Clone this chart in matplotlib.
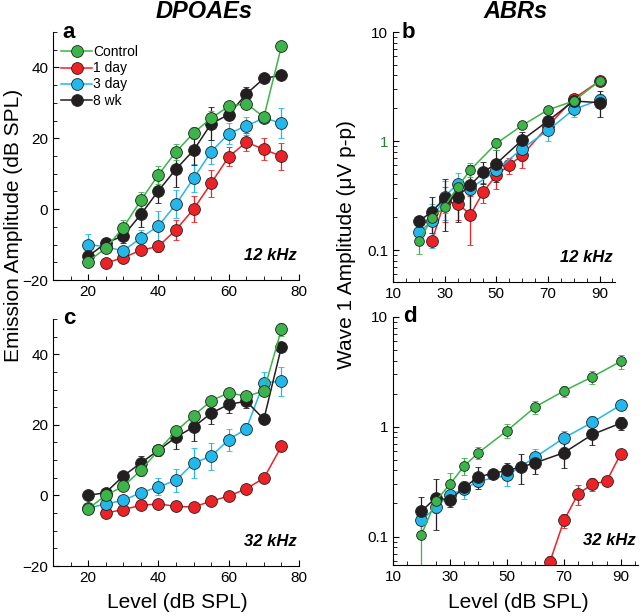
import numpy as np
import matplotlib
matplotlib.use("Agg")
import matplotlib.pyplot as plt
from matplotlib.lines import Line2D
from matplotlib.ticker import FixedLocator, MultipleLocator, NullFormatter

plt.rcParams['font.family'] = ['Liberation Sans', 'DejaVu Sans']

groups = ["Control", "1 day", "3 day", "8 wk"]
draw_order = ["1 day", "3 day", "8 wk", "Control"]
colors = {"Control": "#3cb44a", "1 day": "#ec2227", "3 day": "#22b8ec", "8 wk": "#231f20"}

# ---- panel a: DPOAE 12 kHz ----
a_lvl = {
    "Control": [20, 25, 30, 35, 40, 45, 50, 55, 60, 65, 70, 75],
    "1 day":   [25, 30, 35, 40, 45, 50, 55, 60, 65, 70, 75],
    "3 day":   [20, 25, 30, 35, 40, 45, 50, 55, 60, 65, 70, 75],
    "8 wk":    [20, 25, 30, 35, 40, 45, 50, 55, 60, 65, 70, 75],
}
a_amp = {
    "Control": [-14.8, -11.0, -5.2, 2.5, 9.7, 16.2, 21.5, 25.7, 29.0, 29.8, 26.0, 46.0],
    "1 day":   [-15.2, -13.7, -11.6, -10.5, -5.8, 0.0, 7.3, 14.8, 18.9, 16.9, 14.9],
    "3 day":   [-10.0, -10.6, -11.8, -8.1, -4.7, 1.4, 8.7, 16.2, 21.3, 23.5, 25.7, 24.3],
    "8 wk":    [-13.3, -9.6, -7.5, -1.5, 5.2, 11.3, 16.6, 24.1, 26.7, 32.5, 36.9, 37.8],
}
a_err = {
    "Control": [0.5, 1.5, 2.0, 2.3, 2.5, 2.2, 1.8, 2.0, 1.0, 1.0, 1.0, 0.5],
    "1 day":   [0.5, 0.8, 1.0, 1.5, 2.8, 3.7, 3.8, 2.7, 2.5, 3.1, 3.9],
    "3 day":   [3.1, 1.0, 1.0, 2.2, 4.2, 4.0, 4.0, 3.4, 3.0, 2.5, 1.5, 4.2],
    "8 wk":    [1.0, 1.0, 2.0, 3.4, 3.5, 5.1, 4.0, 4.6, 1.4, 2.0, 0.5, 0.5],
}

# ---- panel c: DPOAE 32 kHz ----
c_lvl = a_lvl
c_amp = {
    "Control": [-3.8, 0.0, 2.6, 7.1, 12.8, 18.2, 22.6, 26.8, 29.1, 28.1, 29.6, 47.1],
    "1 day":   [-5.0, -4.0, -2.8, -2.4, -3.1, -3.3, -1.6, -0.2, 1.9, 4.9, 13.9],
    "3 day":   [-3.6, -2.4, -1.4, 0.8, 2.4, 4.3, 9.2, 11.1, 15.8, 18.9, 32.0, 32.3],
    "8 wk":    [0.0, 0.8, 5.5, 9.2, 12.8, 16.5, 19.4, 23.3, 25.8, 26.7, 21.6, 42.1],
}
c_err = {
    "Control": [0.5, 0.8, 1.0, 1.5, 1.5, 1.5, 1.0, 1.0, 1.0, 1.0, 1.0, 1.9],
    "1 day":   [0.5, 0.5, 0.5, 0.5, 0.5, 0.5, 0.5, 1.0, 1.0, 1.2, 1.3],
    "3 day":   [0.5, 1.0, 1.0, 1.0, 2.4, 3.3, 4.3, 3.8, 3.1, 1.5, 3.0, 4.0],
    "8 wk":    [0.5, 1.0, 1.0, 2.0, 1.5, 3.3, 4.0, 3.0, 2.5, 2.0, 0.5, 0.5],
}

# ---- panel b: ABR wave 1, 12 kHz ----
b_lvl = {
    "Control": [20, 25, 30, 35, 40, 50, 60, 70, 80, 90],
    "1 day":   [25, 30, 35, 40, 45, 50, 55, 60, 70, 80, 90],
    "3 day":   [20, 25, 30, 35, 40, 50, 60, 70, 80, 90],
    "8 wk":    [20, 25, 30, 35, 40, 45, 50, 60, 70, 80, 90],
}
b_amp = {
    "Control": [0.12, 0.195, 0.25, 0.378, 0.545, 0.95, 1.39, 1.93, 2.33, 3.55],
    "1 day":   [0.12, 0.28, 0.267, 0.212, 0.342, 0.487, 0.60, 0.74, 1.37, 2.45, 3.55],
    "3 day":   [0.146, 0.184, 0.31, 0.405, 0.367, 0.54, 0.85, 1.25, 1.95, 2.38],
    "8 wk":    [0.184, 0.224, 0.30, 0.31, 0.397, 0.52, 0.62, 1.02, 1.53, 2.33, 2.25],
}
b_err = {
    "Control": [0.028, 0.02, 0.03, 0.04, 0.08, 0.12, 0.08, 0.1, 0.15, 0.2],
    "1 day":   [0.01, 0.1, 0.08, 0.1, 0.07, 0.12, 0.1, 0.17, 0.15, 0.2, 0.2],
    "3 day":   [0.02, 0.08, 0.12, 0.1, 0.05, 0.08, 0.2, 0.25, 0.3, 0.3],
    "8 wk":    [0.02, 0.08, 0.15, 0.13, 0.2, 0.12, 0.2, 0.2, 0.15, 0.2, 0.6],
}

# ---- panel d: ABR wave 1, 32 kHz ----
d_lvl = {
    "Control": [20, 25, 30, 35, 40, 50, 60, 70, 80, 90],
    "1 day":   [65, 70, 75, 80, 85, 90],
    "3 day":   [20, 25, 30, 35, 40, 50, 60, 70, 80, 90],
    "8 wk":    [20, 25, 30, 35, 40, 45, 50, 55, 60, 70, 80, 90],
}
d_amp = {
    "Control": [0.104, 0.21, 0.30, 0.44, 0.58, 0.92, 1.52, 2.12, 2.85, 3.95],
    "1 day":   [0.058, 0.14, 0.245, 0.30, 0.32, 0.57],
    "3 day":   [0.14, 0.185, 0.24, 0.27, 0.32, 0.36, 0.53, 0.79, 1.1, 1.58],
    "8 wk":    [0.17, 0.225, 0.215, 0.28, 0.35, 0.375, 0.40, 0.43, 0.47, 0.58, 0.85, 1.08],
}
d_err = {
    "Control": [0.05, 0.02, 0.08, 0.08, 0.07, 0.13, 0.2, 0.25, 0.4, 0.6],
    "1 day":   [0.008, 0.02, 0.05, 0.04, 0.02, 0.05],
    "3 day":   [0.01, 0.02, 0.02, 0.05, 0.04, 0.07, 0.1, 0.13, 0.15, 0.05],
    "8 wk":    [0.06, 0.11, 0.03, 0.03, 0.08, 0.03, 0.07, 0.13, 0.1, 0.16, 0.17, 0.15],
}

W, H = 640, 616
fig = plt.figure(figsize=(W / 100, H / 100), dpi=100)


def box(l, t, r, b):
    return [l / W, 1 - b / H, (r - l) / W, (b - t) / H]


ax_a = fig.add_axes(box(53, 32, 299, 280))
ax_c = fig.add_axes(box(53, 319, 299, 566))
ax_b = fig.add_axes(box(393, 32, 615, 282))
ax_d = fig.add_axes(box(393, 317, 638, 565))


def draw(ax, lvl, amp, err, ms_ctrl=8.5):
    for g in draw_order:
        ms = ms_ctrl if g == "Control" else 8.5
        ax.errorbar(lvl[g], amp[g], yerr=err[g], color=colors[g], ecolor=colors[g],
                    elinewidth=0.9, capsize=2, capthick=0.9, lw=1.1,
                    marker='o', ms=ms, mfc=colors[g], mec='#222222', mew=0.6)
    for s in ['top', 'right']:
        ax.spines[s].set_visible(False)
    ax.tick_params(which='both', direction='in', labelsize=11)
    ax.tick_params(which='major', length=4)
    ax.tick_params(which='minor', length=3)


draw(ax_a, a_lvl, a_amp, a_err)
draw(ax_c, c_lvl, c_amp, c_err)
draw(ax_b, b_lvl, b_amp, b_err, ms_ctrl=7)
draw(ax_d, d_lvl, d_amp, d_err, ms_ctrl=7)

for ax in (ax_a, ax_c):
    ax.set_xlim(10, 80)
    ax.set_ylim(-20, 50)
    ax.xaxis.set_major_locator(FixedLocator([20, 40, 60, 80]))
    ax.xaxis.set_minor_locator(MultipleLocator(5))
    ax.yaxis.set_major_locator(FixedLocator([-20, 0, 20, 40]))
    ax.yaxis.set_minor_locator(MultipleLocator(5))

for ax, lo in ((ax_b, 0.051), (ax_d, 0.055)):
    ax.set_yscale('log')
    ax.set_xlim(10, 96)
    ax.set_ylim(lo, 10)
    ax.yaxis.set_major_locator(FixedLocator([0.1, 1, 10]))
    ax.yaxis.set_minor_locator(FixedLocator([k * 10.0 ** e for e in (-2, -1, 0) for k in range(2, 10)]))
    ax.yaxis.set_minor_formatter(NullFormatter())
    ax.set_yticklabels(["0.1", "1", "10"])
    ax.xaxis.set_major_locator(FixedLocator([10, 30, 50, 70, 90]))
    ax.xaxis.set_minor_locator(MultipleLocator(5))

ax_b.get_yticklabels()[1].set_color('#2e7d32')

handles = [Line2D([], [], color=colors[g], lw=1.1, marker='o', ms=8.5,
                  mfc=colors[g], mec='#222222', mew=0.6) for g in groups]
ax_a.legend(handles, groups, loc='upper left', bbox_to_anchor=(0.0, 0.98), frameon=False,
            fontsize=10, handlelength=2.2, handletextpad=0.1, labelspacing=0.15,
            borderaxespad=0.2, numpoints=1)

for ax, letter in ((ax_a, 'a'), (ax_b, 'b'), (ax_c, 'c'), (ax_d, 'd')):
    ax.text(0.04, 1.0, letter, transform=ax.transAxes, fontsize=16, fontweight='bold',
            va='center', ha='left')

for ax, khz in ((ax_a, '12 kHz'), (ax_b, '12 kHz'), (ax_c, '32 kHz'), (ax_d, '32 kHz')):
    ax.text(0.99, 0.1, khz, transform=ax.transAxes, fontsize=12, fontweight='bold',
            style='italic', ha='right', va='center')

fig.text(204 / W, 1 - 12 / H, 'DPOAEs', fontsize=17, fontweight='bold', style='italic',
         ha='center', va='center')
fig.text(516 / W, 1 - 12 / H, 'ABRs', fontsize=17, fontweight='bold', style='italic',
         ha='center', va='center')

fig.text(14 / W, 1 - 225 / H, 'Emission Amplitude (dB SPL)', fontsize=15, rotation=90,
         ha='center', va='center')
fig.text(347 / W, 1 - 245 / H, 'Wave 1 Amplitude (\u03bcV p-p)', fontsize=15, rotation=90,
         ha='center', va='center')
fig.text(177 / W, 1 - 603 / H, 'Level (dB SPL)', fontsize=15, ha='center', va='center')
fig.text(518 / W, 1 - 603 / H, 'Level (dB SPL)', fontsize=15, ha='center', va='center')

fig.savefig('out.png', dpi=100)
